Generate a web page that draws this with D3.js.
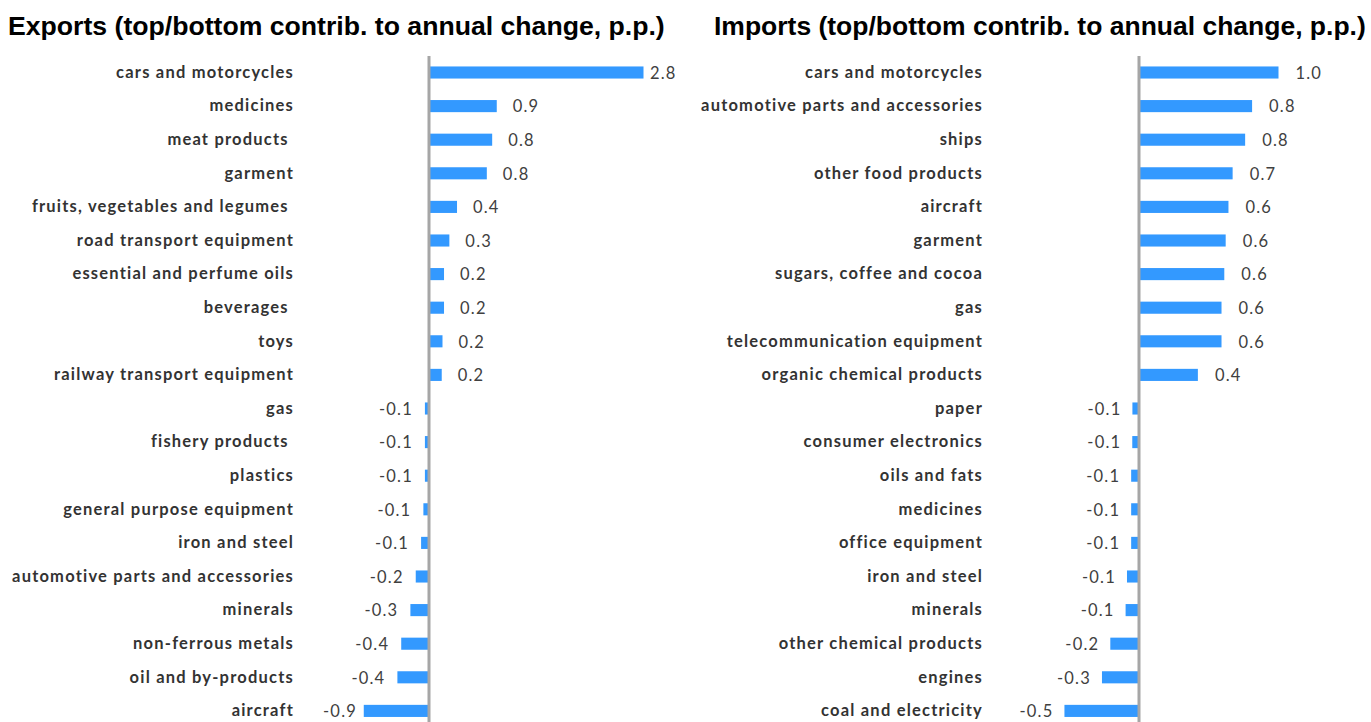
<!DOCTYPE html>
<html>
<head>
<meta charset="utf-8">
<script src="https://cdn.jsdelivr.net/npm/d3@7"></script>
<style>
  html, body { margin: 0; padding: 0; background: #fff; }
  svg { display: block; }
</style>
</head>
<body>
<svg id="chart" width="1371" height="722"></svg>
<script>
const exportTitle = "Exports (top/bottom contrib. to annual change, p.p.)";
const exportCategories = [
  "cars and motorcycles", "medicines", "meat products ", "garment",
  "fruits, vegetables and legumes ", "road transport equipment",
  "essential and perfume oils", "beverages ", "toys", "railway transport equipment",
  "gas", "fishery products ", "plastics", "general purpose equipment",
  "iron and steel", "automotive parts and accessories", "minerals",
  "non-ferrous metals", "oil and by-products", "aircraft"
];
const exportValues = [
  2.80, 0.88, 0.82, 0.75, 0.36, 0.26, 0.19, 0.19, 0.17, 0.16,
  -0.06, -0.06, -0.06, -0.08, -0.11, -0.18, -0.25, -0.37, -0.42, -0.86
];

const importTitle = "Imports (top/bottom contrib. to annual change, p.p.)";
const importCategories = [
  "cars and motorcycles", "automotive parts and accessories", "ships",
  "other food products", "aircraft", "garment", "sugars, coffee and cocoa",
  "gas", "telecommunication equipment", "organic chemical products",
  "paper", "consumer electronics", "oils and fats", "medicines",
  "office equipment", "iron and steel", "minerals", "other chemical products",
  "engines", "coal and electricity"
];
const importValues = [
  1.00, 0.81, 0.76, 0.67, 0.64, 0.62, 0.61, 0.59, 0.59, 0.42,
  -0.051, -0.052, -0.06, -0.06, -0.06, -0.09, -0.10, -0.21, -0.27, -0.54
];

const svg = d3.select("#chart");
const fmt = d3.formatLocale({ decimal: ".", thousands: ",", grouping: [3], currency: ["", ""], minus: "-" }).format(".1f");

function drawPanel(cfg) {
  const g = svg.append("g");
  // title
  const t = g.append("text")
    .attr("x", cfg.titleX).attr("y", 35)
    .attr("font-family", "'Liberation Sans', Arial, sans-serif")
    .attr("font-weight", "bold").attr("font-size", 22)
    .attr("fill", "#000")
    .text(cfg.title);
  // fit title to the width it occupies in the reference
  const w = t.node().getComputedTextLength();
  t.attr("font-size", 22 * cfg.titleWidth / w);

  const x = d3.scaleLinear()
    .domain(cfg.domain)
    .range(cfg.range);

  const y = d3.scaleBand()
    .domain(cfg.categories)
    .range([55.7, 727.7])
    .paddingInner(0.64)
    .paddingOuter(0.32);

  const data = cfg.categories.map((c, i) => ({ c, v: cfg.values[i] }));

  // bars
  g.selectAll("rect.bar").data(data).join("rect")
    .attr("class", "bar")
    .attr("x", d => Math.min(x(0), x(d.v)))
    .attr("y", d => y(d.c))
    .attr("width", d => Math.abs(x(d.v) - x(0)))
    .attr("height", y.bandwidth())
    .attr("fill", "#3399FF");

  // axis line at zero
  g.append("line")
    .attr("x1", x(0) - 0.5).attr("x2", x(0) - 0.5)
    .attr("y1", 56).attr("y2", 722)
    .attr("stroke", "#A6A6A6").attr("stroke-width", 3);

  // category labels (axis)
  const axis = d3.axisLeft(y).tickSize(0).tickPadding(0);
  const ax = g.append("g")
    .attr("transform", `translate(${cfg.labelX},0)`)
    .call(axis);
  ax.select(".domain").remove();
  ax.selectAll("text")
    .attr("font-family", "Lato, 'Open Sans', sans-serif")
    .attr("font-weight", "bold")
    .attr("font-size", 16.5)
    .attr("letter-spacing", 1.2)
    .attr("fill", "#333333")
    .style("white-space", "pre");

  // value labels
  g.selectAll("text.val").data(data).join("text")
    .attr("class", "val")
    .attr("x", d => d.v >= 0
      ? Math.min(x(d.v) + cfg.posGap, cfg.maxLabelX)
      : Math.max(x(d.v) - cfg.negGap, cfg.minLabelX))
    .attr("y", d => y(d.c) + y.bandwidth() / 2)
    .attr("dy", "0.38em")
    .attr("text-anchor", d => d.v >= 0 ? "start" : "end")
    .attr("font-family", "Lato, 'Open Sans', sans-serif")
    .attr("font-size", 16.5)
    .attr("letter-spacing", 1.2)
    .attr("fill", "#404040")
    .text(d => fmt(d.v));
}

drawPanel({
  title: exportTitle, titleX: 8, titleWidth: 657,
  categories: exportCategories, values: exportValues,
  domain: [0, 2.8], range: [429.5, 643.5],
  labelX: 294, posGap: 16, negGap: 12,
  maxLabelX: 650, minLabelX: 357
});

drawPanel({
  title: importTitle, titleX: 714, titleWidth: 652,
  categories: importCategories, values: importValues,
  domain: [0, 1.0], range: [1139.5, 1278.5],
  labelX: 983, posGap: 17, negGap: 11,
  maxLabelX: 1300, minLabelX: 1053
});
</script>
</body>
</html>
